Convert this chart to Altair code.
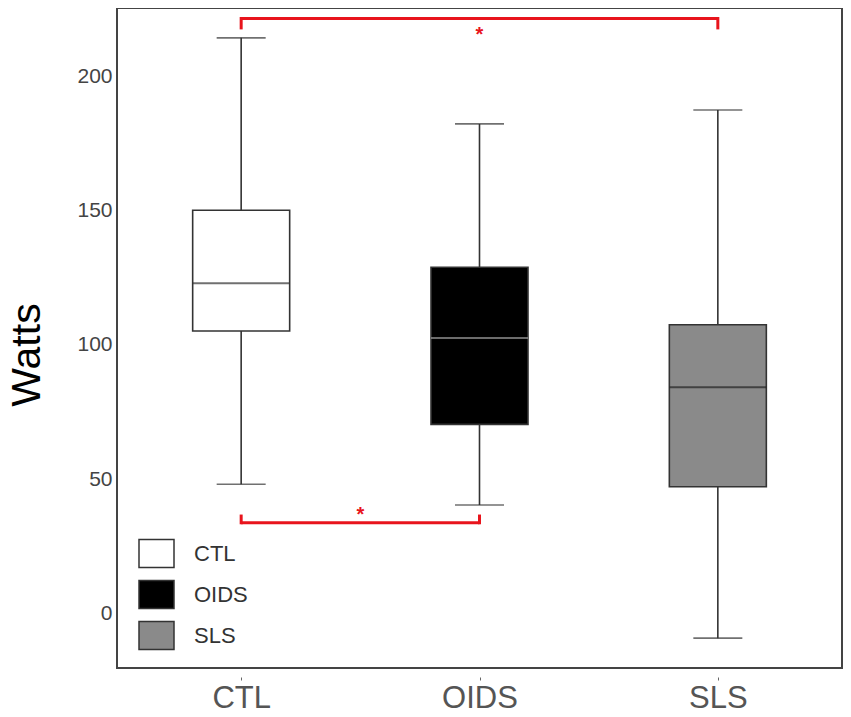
import altair as alt
import pandas as pd

groups = ["CTL", "OIDS", "SLS"]
group_pos = [0, 1, 2]
whisker_low = [48.2, 40.5, -9.0]
q1 = [105.2, 70.5, 47.3]
median = [123.0, 102.6, 84.3]
q3 = [150.1, 128.9, 107.5]
whisker_high = [214.2, 182.2, 187.4]
fills = ["#ffffff", "#000000", "#8a8a8a"]
median_colors = ["#333333", "#9a9a9a", "#222222"]

# significance brackets
br_from = [0, 0]
br_to = [2, 1]
br_y = [221.4, 33.9]
br_tip = [217.9, 36.4]
star_y = [216.5, 37.9]

box = pd.DataFrame({
    "group": groups, "pos": group_pos, "low": whisker_low, "q1": q1,
    "median": median, "q3": q3, "high": whisker_high, "mcol": median_colors,
})

br = pd.DataFrame({"x1": br_from, "x2": br_to, "y": br_y, "tip": br_tip,
                   "star": star_y, "mid": [(a + b) / 2 for a, b in zip(br_from, br_to)]})
ends = pd.DataFrame({
    "x": br_from + br_to,
    "y": br_y + br_y,
    "tip": br_tip + br_tip,
})

xscale = alt.Scale(domain=[-0.5, 2.5], nice=False, zero=False)
yscale = alt.Scale(domain=[-20.1, 225.3], nice=False, zero=False)

X = alt.X("pos:Q", scale=xscale, title=None,
          axis=alt.Axis(values=group_pos,
                        labelExpr="['CTL','OIDS','SLS'][datum.value]",
                        grid=False, domain=False, ticks=True, tickSize=3,
                        tickColor="#666666", offset=9, labelPadding=3,
                        labelFontSize=31, labelColor="#555555",
                        labelFont="Liberation Sans"))
Y = alt.Y("low:Q", scale=yscale, title="Watts",
          axis=alt.Axis(values=[0, 50, 100, 150, 200], grid=False,
                        domain=False, ticks=False, labelPadding=5,
                        labelFontSize=21, labelColor="#444444",
                        labelFont="Liberation Sans",
                        titleFontSize=41, titleFontWeight="normal",
                        titleColor="#000000", titleFont="Liberation Sans",
                        titleAngle=-90, titleX=-78, titleY=346.5,
                        titleAlign="center", titleBaseline="alphabetic"))

base = alt.Chart(box)

whisk = base.mark_rule(color="#333333", strokeWidth=1.6).encode(
    x=X, y=Y, y2="high:Q")

caps_low = base.mark_tick(color="#333333", size=49, thickness=1.6,
                          orient="horizontal").encode(
    x=alt.X("pos:Q", scale=xscale), y=alt.Y("low:Q", scale=yscale))
caps_high = base.mark_tick(color="#333333", size=49, thickness=1.6,
                           orient="horizontal").encode(
    x=alt.X("pos:Q", scale=xscale), y=alt.Y("high:Q", scale=yscale))

boxes = base.mark_bar(size=97, stroke="#333333", strokeWidth=1.6).encode(
    x=alt.X("pos:Q", scale=xscale),
    y=alt.Y("q1:Q", scale=yscale),
    y2="q3:Q",
    fill=alt.Fill("group:N",
                  scale=alt.Scale(domain=groups, range=fills),
                  legend=alt.Legend(title=None, orient="none",
                                    legendX=21, legendY=527,
                                    padding=0, rowPadding=5,
                                    symbolType="M-1,-0.8H1V0.8H-1Z",
                                    symbolSize=1225,
                                    symbolStrokeColor="#333333",
                                    symbolStrokeWidth=1.5,
                                    symbolOpacity=1,
                                    labelFontSize=22, labelColor="#333333",
                                    labelFont="Liberation Sans",
                                    labelOffset=19)),
)

meds = base.mark_tick(size=97, thickness=2, orient="horizontal").encode(
    x=alt.X("pos:Q", scale=xscale),
    y=alt.Y("median:Q", scale=yscale),
    color=alt.Color("mcol:N", scale=None),
)

red = "#e8141c"
br_h = alt.Chart(br).mark_rule(color=red, strokeWidth=3).encode(
    x=alt.X("x1:Q", scale=xscale), x2="x2:Q", y=alt.Y("y:Q", scale=yscale))
br_v = alt.Chart(ends).mark_rule(color=red, strokeWidth=3, strokeCap="square").encode(
    x=alt.X("x:Q", scale=xscale), y=alt.Y("y:Q", scale=yscale), y2="tip:Q")
stars = alt.Chart(br).mark_text(text="*", color=red, fontSize=20,
                                fontWeight="bold", font="Liberation Sans",
                                baseline="middle", dy=3).encode(
    x=alt.X("mid:Q", scale=xscale), y=alt.Y("star:Q", scale=yscale))

chart = alt.layer(whisk, caps_low, caps_high, boxes, meds, br_h, br_v, stars).properties(
    width=725, height=660,
    autosize=alt.AutoSizeParams(type="none"),
    padding={"left": 109, "top": 0, "right": 1, "bottom": 49},
).configure(
    background="white",
    view=alt.ViewConfig(stroke="#444444", strokeWidth=2),
)

chart.save("out.html", embed_options={"renderer": "svg", "actions": False})
